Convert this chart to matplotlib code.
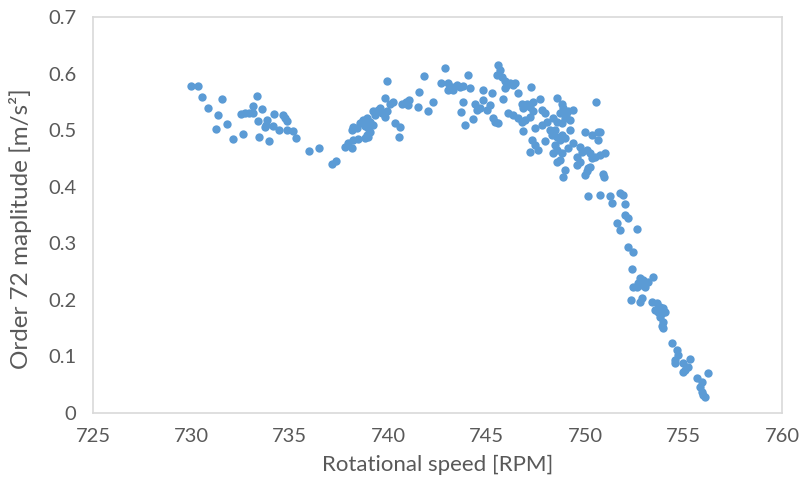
import matplotlib
matplotlib.use("Agg")
import matplotlib.pyplot as plt

# order 72 amplitude vs rotational speed
rpm = [
    729.96, 730.35, 730.52, 731.54, 730.86, 733.32, 733.11, 733.57, 732.50, 732.72,
    732.94, 733.14, 731.37, 734.19, 734.67, 734.75, 734.84, 733.37, 733.82, 733.79,
    731.82, 734.13, 733.74, 731.25, 734.46, 734.84, 735.17, 732.60, 732.13, 733.45,
    733.96, 735.30, 735.97, 736.48, 737.16, 737.34, 737.80, 738.14, 737.97, 738.22,
    738.48, 738.82, 738.98, 738.14, 738.40, 738.22, 738.56, 738.73, 738.90, 739.07,
    739.24, 738.98, 738.82, 739.07, 738.90, 739.32, 739.49, 739.24, 739.67, 739.83,
    739.92, 739.58, 739.83, 740.09, 740.25, 739.95, 740.34, 740.60, 740.54, 740.68,
    740.90, 741.07, 741.02, 741.56, 741.49, 742.03, 742.29, 741.83, 742.88, 742.66,
    743.05, 743.22, 743.47, 743.64, 743.81, 744.15, 743.05, 743.30, 744.06, 743.78,
    743.68, 743.90, 744.32, 744.40, 744.49, 745.59, 745.67, 745.51, 745.76, 745.93,
    746.02, 746.18, 746.35, 746.44, 745.93, 747.23, 744.83, 745.25, 744.83, 745.17,
    744.66, 745.00, 745.84, 746.60, 746.78, 747.03, 746.86, 747.20, 747.37, 747.71,
    748.55, 748.81, 748.89, 749.14, 749.40, 749.03, 748.72, 750.54, 746.09, 746.35,
    746.60, 746.78, 746.94, 747.20, 747.37, 747.79, 747.96, 745.33, 745.42, 745.59,
    747.45, 747.79, 748.05, 748.38, 748.55, 748.81, 748.98, 749.23, 746.86, 748.21,
    748.47, 748.30, 748.55, 748.81, 748.72, 748.98, 749.23, 747.28, 747.45, 747.62,
    747.20, 747.96, 748.47, 748.55, 748.38, 748.81, 749.14, 749.40, 749.74, 749.82,
    749.57, 749.99, 750.33, 750.67, 750.75, 750.67, 750.08, 750.25, 750.33, 750.50,
    750.75, 751.01, 748.55, 748.72, 749.57, 749.74, 750.16, 750.25, 748.98, 748.89,
    749.99, 750.08, 750.92, 750.96, 750.16, 750.75, 751.26, 751.35, 751.77, 751.94,
    752.02, 752.02, 752.19, 751.60, 751.77, 752.62, 752.19, 752.45, 752.36, 752.79,
    752.95, 752.70, 752.62, 752.87, 753.04, 753.46, 753.21, 752.45, 752.33, 752.87,
    752.79, 753.38, 753.63, 753.80, 753.97, 753.55, 753.72, 753.89, 754.06, 753.80,
    753.97, 753.97, 753.89, 754.40, 754.65, 754.73, 754.56, 754.56, 754.99, 755.33,
    755.24, 755.07, 754.99, 755.67, 755.92, 756.26, 755.84, 755.92, 756.00, 756.09,
]
amplitude = [
    0.578, 0.578, 0.558, 0.555, 0.540, 0.560, 0.543, 0.538, 0.528, 0.530,
    0.530, 0.530, 0.527, 0.529, 0.527, 0.521, 0.517, 0.517, 0.518, 0.509,
    0.511, 0.507, 0.506, 0.502, 0.500, 0.500, 0.499, 0.493, 0.484, 0.487,
    0.481, 0.486, 0.464, 0.468, 0.440, 0.445, 0.471, 0.468, 0.477, 0.483,
    0.484, 0.486, 0.487, 0.500, 0.503, 0.506, 0.512, 0.518, 0.521, 0.515,
    0.509, 0.503, 0.507, 0.497, 0.491, 0.527, 0.536, 0.533, 0.530, 0.524,
    0.533, 0.539, 0.557, 0.547, 0.550, 0.587, 0.512, 0.506, 0.487, 0.547,
    0.550, 0.553, 0.544, 0.567, 0.541, 0.534, 0.550, 0.596, 0.609, 0.583,
    0.583, 0.577, 0.580, 0.576, 0.578, 0.575, 0.571, 0.571, 0.597, 0.549,
    0.532, 0.509, 0.520, 0.547, 0.536, 0.615, 0.606, 0.597, 0.594, 0.586,
    0.580, 0.583, 0.580, 0.583, 0.574, 0.577, 0.571, 0.565, 0.553, 0.544,
    0.539, 0.536, 0.555, 0.566, 0.547, 0.547, 0.539, 0.541, 0.550, 0.555,
    0.556, 0.547, 0.539, 0.533, 0.536, 0.527, 0.530, 0.550, 0.530, 0.527,
    0.521, 0.515, 0.518, 0.524, 0.533, 0.536, 0.530, 0.521, 0.515, 0.513,
    0.503, 0.509, 0.515, 0.521, 0.515, 0.512, 0.521, 0.518, 0.498, 0.500,
    0.500, 0.491, 0.488, 0.491, 0.483, 0.486, 0.500, 0.483, 0.474, 0.465,
    0.462, 0.481, 0.474, 0.465, 0.459, 0.459, 0.468, 0.477, 0.471, 0.462,
    0.453, 0.497, 0.491, 0.497, 0.497, 0.483, 0.465, 0.459, 0.450, 0.453,
    0.456, 0.459, 0.444, 0.447, 0.438, 0.444, 0.433, 0.435, 0.430, 0.418,
    0.421, 0.427, 0.422, 0.418, 0.384, 0.385, 0.384, 0.371, 0.389, 0.385,
    0.369, 0.350, 0.344, 0.336, 0.324, 0.326, 0.293, 0.285, 0.254, 0.238,
    0.235, 0.229, 0.223, 0.226, 0.223, 0.240, 0.232, 0.222, 0.199, 0.203,
    0.197, 0.197, 0.194, 0.188, 0.185, 0.182, 0.179, 0.176, 0.179, 0.170,
    0.161, 0.150, 0.153, 0.123, 0.111, 0.103, 0.094, 0.089, 0.089, 0.095,
    0.082, 0.076, 0.073, 0.061, 0.055, 0.071, 0.046, 0.038, 0.032, 0.028,
]

x_ticks = [725, 730, 735, 740, 745, 750, 755, 760]
y_ticks = [0, 0.1, 0.2, 0.3, 0.4, 0.5, 0.6, 0.7]
y_tick_labels = ["0", "0.1", "0.2", "0.3", "0.4", "0.5", "0.6", "0.7"]

plt.rcParams["font.family"] = ["Lato", "DejaVu Sans"]

fig = plt.figure(figsize=(8.07, 4.87), dpi=100)
ax = fig.add_axes([93 / 807, 74 / 487, 689 / 807, 396 / 487])

ax.scatter(rpm, amplitude, s=36, color="#5B9BD5", linewidths=0, zorder=3)

ax.set_xlim(725, 760)
ax.set_ylim(0, 0.7)
ax.set_xticks(x_ticks)
ax.set_yticks(y_ticks)
ax.set_yticklabels(y_tick_labels)

for side in ["left", "right", "top", "bottom"]:
    ax.spines[side].set_color("#D9D9D9")
    ax.spines[side].set_linewidth(1.2)

ax.tick_params(axis="both", length=0, labelsize=14.5, labelcolor="#595959")
ax.tick_params(axis="x", pad=11)
ax.tick_params(axis="y", pad=12)

ax.set_xlabel("Rotational speed [RPM]", fontsize=16, color="#595959", labelpad=7)
ax.set_ylabel("Order 72 maplitude [m/s²]", fontsize=17.5, color="#595959")
ax.yaxis.set_label_coords(-0.088, 0.465)

fig.savefig("out.png", dpi=100, facecolor="white")
